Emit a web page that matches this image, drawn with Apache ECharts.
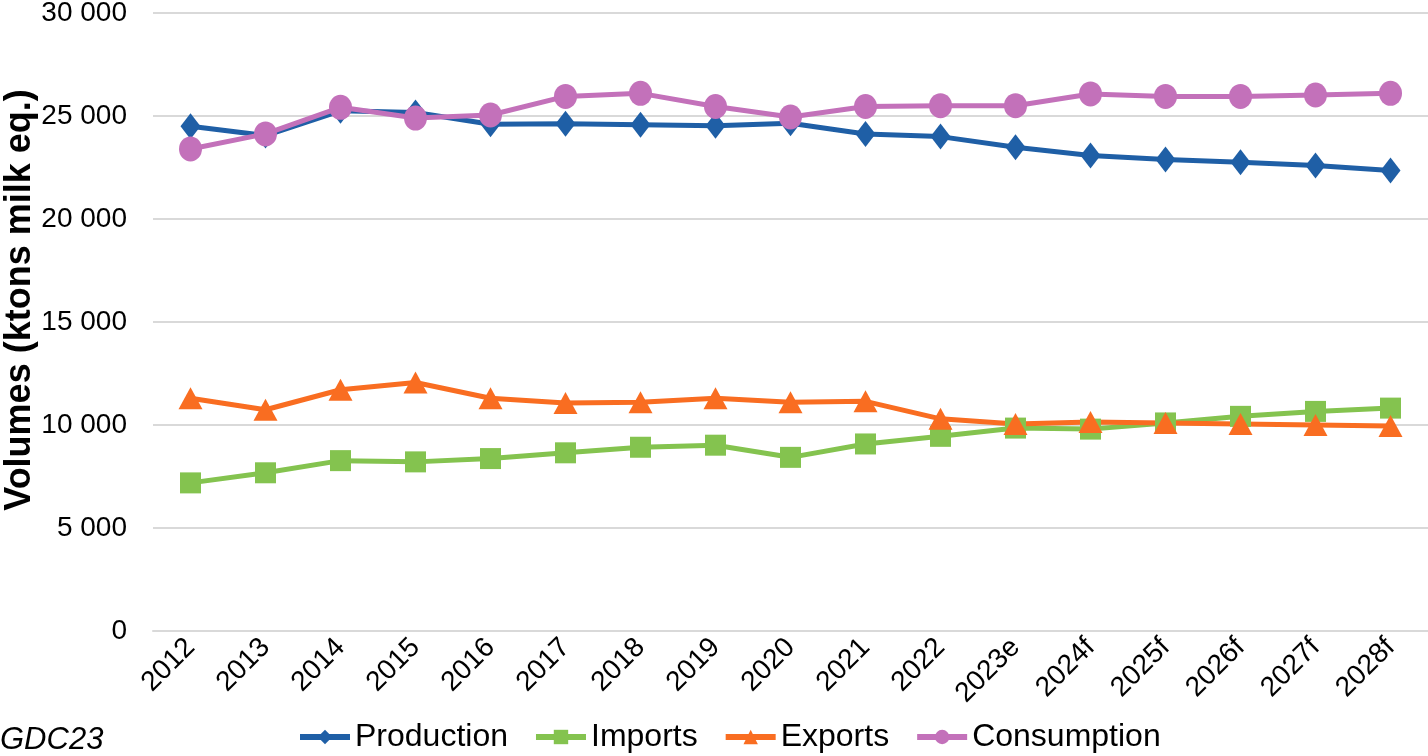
<!DOCTYPE html>
<html>
<head>
<meta charset="utf-8">
<script src="https://cdn.jsdelivr.net/npm/echarts@6/dist/echarts.min.js"></script>
<style>
html,body{margin:0;padding:0;background:#fff;}
#chart{width:1428px;height:756px;}
</style>
</head>
<body>
<div id="chart"></div>
<script>
const categories = ['2012','2013','2014','2015','2016','2017','2018','2019','2020','2021','2022','2023e','2024f','2025f','2026f','2027f','2028f'];
const production = [24500, 24050, 25250, 25170, 24600, 24620, 24580, 24530, 24650, 24130, 24000, 23480, 23080, 22890, 22760, 22600, 22360];
const imports = [7190, 7680, 8270, 8210, 8370, 8650, 8920, 9020, 8430, 9080, 9450, 9850, 9800, 10100, 10420, 10660, 10820];
const exportsData = [11300, 10740, 11710, 12060, 11300, 11070, 11110, 11300, 11100, 11150, 10300, 10050, 10150, 10100, 10050, 10000, 9950];
const consumption = [23400, 24130, 25420, 24900, 25050, 25950, 26100, 25460, 24950, 25460, 25500, 25500, 26070, 25950, 25950, 26020, 26100];
const yTicks = [0, 5000, 10000, 15000, 20000, 25000, 30000];

const FONT = '"Liberation Sans", Arial, sans-serif';
const chart = echarts.init(document.getElementById('chart'), null, {renderer: 'canvas'});

function fmt(v){ return String(v).replace(/\B(?=(\d{3})+(?!\d))/g, ' '); }

function mk(name, data, color, symbol, size){
  return {
    name: name, type: 'line', data: data,
    symbol: symbol, symbolSize: size,
    lineStyle: {color: color, width: 5},
    itemStyle: {color: color},
    animation: false
  };
}

chart.setOption({
  animation: false,
  textStyle: {fontFamily: FONT},
  grid: {left: 153, right: 0, top: 13, bottom: 125, containLabel: false, outerBoundsMode: 'none'},
  xAxis: {
    type: 'category', data: categories, boundaryGap: true,
    axisLine: {show: true, lineStyle: {color: '#d9d9d9', width: 2}},
    axisTick: {show: false},
    axisLabel: {rotate: 45, margin: 12, color: '#000', fontSize: 28, fontFamily: FONT, interval: 0}
  },
  yAxis: {
    type: 'value', min: yTicks[0], max: yTicks[yTicks.length-1], interval: 5000,
    name: 'Volumes (ktons milk eq.)', nameLocation: 'middle', nameRotate: 90, nameGap: 115,
    nameMoveOverlap: false,
    nameTextStyle: {fontSize: 36, fontWeight: 'bold', color: '#000', fontFamily: FONT, padding: [0, 0, 0, 44]},
    axisLine: {show: false}, axisTick: {show: false},
    splitLine: {lineStyle: {color: '#d9d9d9', width: 2}},
    axisLabel: {margin: 26, color: '#000', fontSize: 28, fontFamily: FONT, formatter: fmt}
  },
  legend: {
    left: 292, bottom: -2, itemWidth: 50, itemHeight: 18, itemGap: 25,
    lineStyle: {width: 6},
    textStyle: {fontSize: 32, color: '#000', fontFamily: FONT},
    data: ['Production','Imports','Exports','Consumption']
  },
  graphic: [{
    type: 'text', left: 0, bottom: 0,
    style: {text: 'GDC23', fontSize: 31, fontStyle: 'italic', fontFamily: FONT, fill: '#000'}
  }],
  series: [
    mk('Production', production, '#1F5FA6', 'diamond', [20, 26]),
    mk('Imports', imports, '#84C34F', 'rect', 21),
    mk('Exports', exportsData, '#F96D21', 'triangle', [24, 22]),
    mk('Consumption', consumption, '#C371BA', 'circle', [23, 25])
  ]
});
</script>
</body>
</html>
